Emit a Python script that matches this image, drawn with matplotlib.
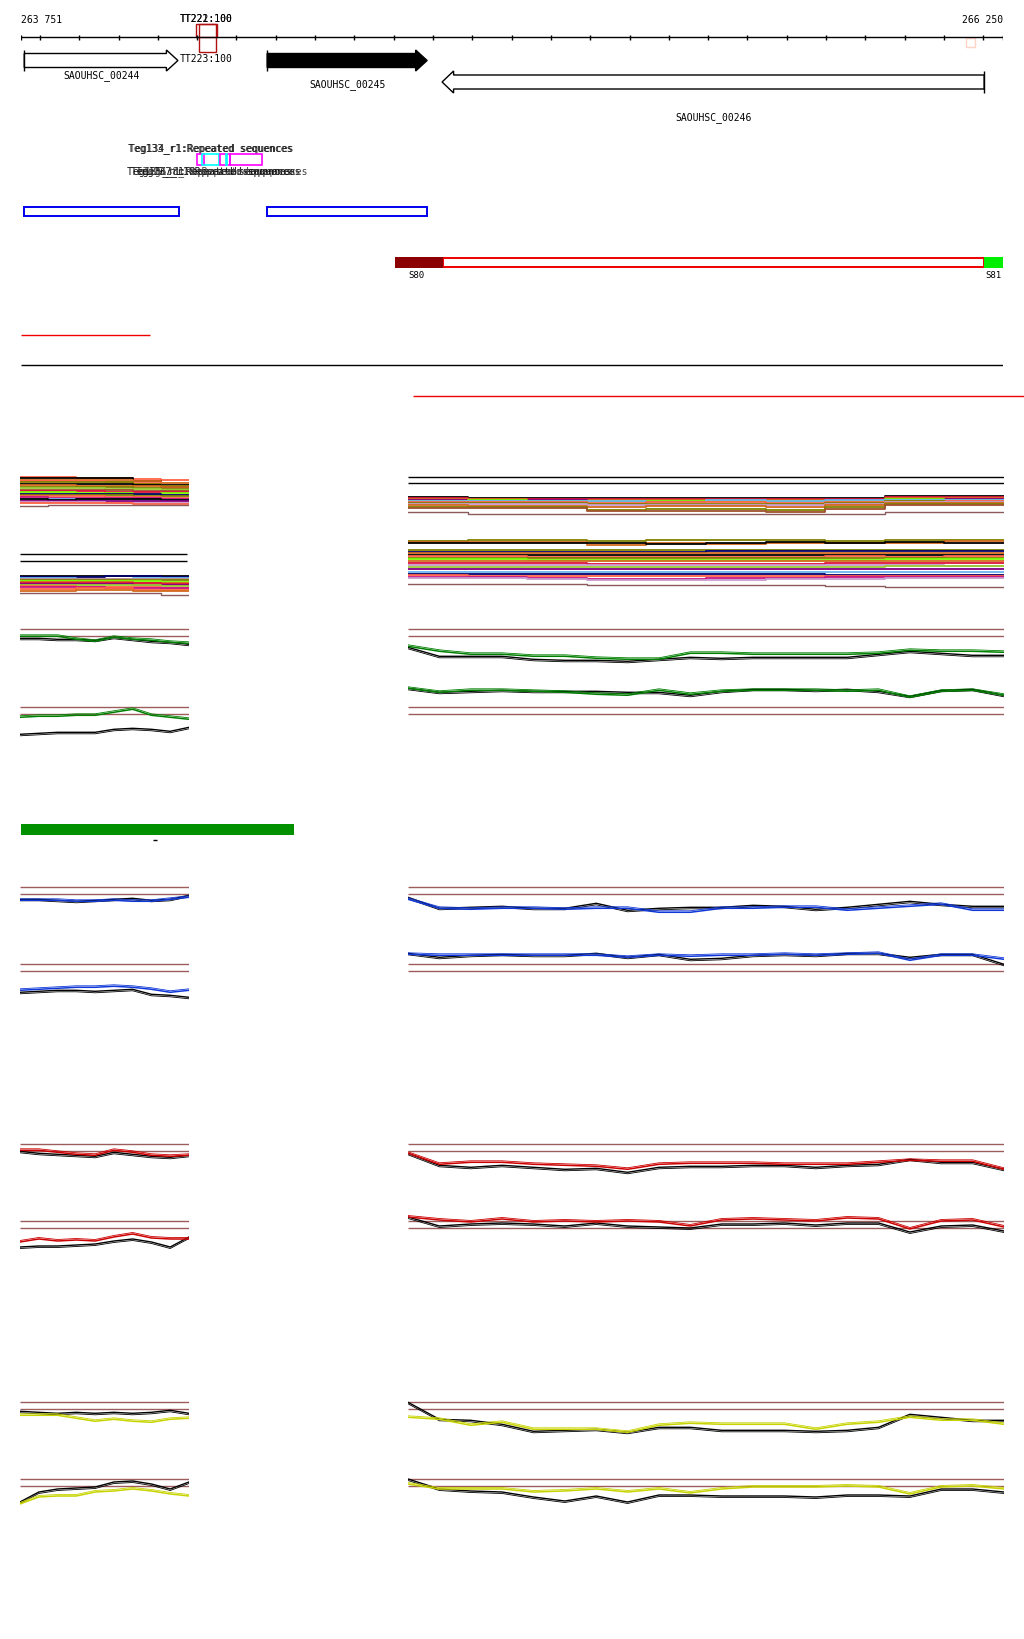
import numpy as np
import matplotlib.pyplot as plt
from matplotlib.patches import Rectangle, Polygon

W, H = 1024, 1640
plt.rcParams['font.family'] = 'DejaVu Sans Mono'
plt.rcParams['font.size'] = 7

# ---- genome window ----
win_start, win_end = 263751, 266250
ruler_ticks = list(range(263800, 266250, 100))

# genes: name, start, end, strand, filled
gene_names = ['SAOUHSC_00244', 'SAOUHSC_00245', 'SAOUHSC_00246']
gene_starts = [263760, 264378, 264823]
gene_ends = [264151, 264785, 266202]
gene_strands = [1, 1, -1]
gene_filled = [False, True, False]

# terminators
term_labels = ['TT221:100', 'TT222:100', 'TT223:100']
term_starts = [264198, 264205]
term_ends = [264251, 264247]

# repeated sequence annotations
rep_starts = [264200, 264213, 264258, 264273, 264284]
rep_ends = [264218, 264256, 264284, 264275, 264366]
rep_colors = ['magenta', 'cyan', 'magenta', 'cyan', 'magenta']
rep_labels_1 = ['Teg133_r1:Repeated sequences', 'Teg134_r1:Repeated sequences']
rep_labels_2 = ['Teg135_r1:Repeated sequences', 'Teg136_r1:Repeated sequences',
                'Teg137_r1:Repeated sequences', 'Teg138_r1:Repeated sequences']

# blue boxes (CDS)
cds_starts = [263759, 264378]
cds_ends = [264154, 264785]

# segment bar S80 / S81
seg_start, seg_end = 264703, 266250
seg_left_end = 264825
seg_right_start = 266202

# ---- dense colored tracks ----
C = {'tomato': '#ff6347', 'black': '#000000', 'orange': '#d2691e', 'olive': '#808000',
     'yellowgreen': '#9acd32', 'sienna': '#a0522d', 'crimson': '#dc143c',
     'lawngreen': '#7cfc00', 'navy': '#000070', 'magenta': '#c71585',
     'lightblue': '#6cb4ee', 'purple': '#800080', 'plum': '#c89ad0',
     'brown': '#8b5a5a', 'rosybrown': '#bc8f8f'}

dl1_colors = ['tomato', 'black', 'orange', 'tomato', 'olive', 'black', 'orange', 'olive',
              'yellowgreen', 'sienna', 'crimson', 'lawngreen', 'navy', 'olive', 'tomato',
              'magenta', 'lightblue', 'black', 'purple', 'plum', 'tomato', 'brown']
dl1_levels = [[0, 0, 1, 1, 2, 3], [1, 1, 1, 1, 4, 8], [3, 3, 3, 3, 4, 6], [4, 4, 4, 5, 6, 9],
              [5, 5, 5, 5, 7, 9], [7, 7, 7, 7, 8, 10], [8, 8, 9, 9, 9, 10], [10, 10, 10, 10, 11, 12],
              [11, 11, 11, 12, 12, 13], [13, 13, 13, 13, 14, 14], [14, 14, 14, 15, 15, 15],
              [15, 15, 16, 16, 17, 16], [17, 17, 17, 17, 17, 18], [18, 18, 18, 18, 19, 19],
              [19, 19, 19, 20, 20, 21], [20, 21, 21, 21, 21, 22], [22, 22, 23, 22, 23, 23],
              [22, 23, 22, 22, 22, 23], [24, 24, 24, 24, 24, 24], [25, 25, 25, 26, 26, 26],
              [26, 26, 26, 26, 27, 27], [29, 28, 28, 28, 28, 28]]

dr1_colors = ['black', 'crimson', 'orange', 'purple', 'lawngreen', 'lightblue', 'tomato',
              'olive', 'plum', 'orange', 'olive', 'sienna', 'brown']
dr1_levels = [[2, 3, 3, 3, 3, 3, 3, 3, 1, 1], [3, 4, 4, 4, 4, 4, 4, 4, 2, 2],
              [4, 4, 5, 5, 5, 5, 5, 5, 3, 3], [5, 5, 5, 6, 6, 6, 6, 5, 4, 4],
              [6, 5, 6, 6, 6, 6, 6, 6, 4, 5], [6, 6, 6, 6, 7, 5, 6, 5, 5, 5],
              [7, 7, 7, 8, 7, 7, 8, 7, 6, 6], [8, 8, 8, 9, 9, 9, 9, 8, 6, 7],
              [9, 9, 9, 10, 10, 10, 10, 9, 7, 7], [10, 11, 11, 12, 11, 11, 12, 10, 8, 8],
              [12, 12, 12, 15, 14, 14, 15, 12, 9, 9], [13, 13, 13, 16, 16, 16, 17, 14, 10, 10],
              [17, 19, 19, 19, 19, 19, 19, 19, 17, 17]]

dl2_colors = ['black', 'navy', 'lightblue', 'rosybrown', 'olive', 'lawngreen', 'orange',
              'crimson', 'purple', 'yellowgreen', 'tomato', 'magenta', 'tomato', 'orange', 'brown']
dl2_levels = [[0, 0, 0, 0, 0, 0], [1, 1, 1, 0, 0, 1], [2, 2, 3, 3, 2, 2], [3, 3, 3, 3, 3, 3],
              [4, 4, 4, 4, 4, 4], [5, 5, 5, 5, 5, 6], [6, 6, 6, 6, 7, 7], [7, 7, 7, 7, 7, 8],
              [8, 8, 8, 8, 9, 9], [9, 9, 9, 9, 9, 10], [10, 10, 11, 11, 11, 12],
              [11, 11, 11, 12, 12, 12], [13, 13, 12, 12, 14, 14], [15, 15, 14, 14, 15, 15],
              [17, 17, 17, 17, 17, 19]]

dr2_colors = ['olive', 'orange', 'black', 'olive', 'navy', 'orange', 'black', 'tomato', 'olive',
              'lawngreen', 'orange', 'crimson', 'plum', 'yellowgreen', 'purple', 'lightblue',
              'navy', 'tomato', 'magenta', 'plum', 'brown']
dr2_levels = [[1, 0, 0, 1, 0, 0, 0, 1, 0, 0], [2, 2, 2, 5, 3, 4, 3, 3, 3, 1],
              [3, 3, 3, 3, 4, 3, 2, 3, 2, 3], [10] * 10, [12, 12, 12, 12, 12, 11, 11, 11, 11, 11],
              [13] * 10, [15] * 10, [16, 16, 17, 17, 17, 17, 17, 16, 17, 16], [18] * 10,
              [19, 19, 20, 20, 20, 20, 20, 20, 19, 19], [21] * 10,
              [23, 23, 23, 24, 24, 24, 24, 23, 23, 23], [25, 25, 25, 25, 25, 25, 25, 25, 25, 26],
              [27, 27, 27, 27, 27, 27, 27, 27, 26, 26], [29] * 10, [32] * 10,
              [34, 34, 34, 34, 34, 34, 34, 35, 35, 35], [35, 36, 36, 36, 36, 36, 36, 36, 36, 36],
              [37, 37, 38, 39, 39, 38, 38, 37, 37, 37], [38, 38, 39, 40, 40, 40, 39, 39, 38, 38],
              [44, 44, 44, 45, 45, 45, 45, 46, 47, 47]]

# ---- coverage-like signal tracks (pixel offsets from brown guide lines) ----
sig_colors = ['#008000', '#1038d8', '#cc0000', '#c8d400']

green_ru_k = [18, 27, 27, 27, 30, 31, 31, 32, 30, 28, 29, 28, 28, 28, 28, 25, 22, 24, 26, 26]
green_ru_c = [17, 22, 25, 25, 27, 27, 29, 30, 30, 24, 24, 25, 25, 25, 25, 24, 21, 22, 22, 23]
green_rl_k = [-19, -15, -16, -17, -16, -16, -16, -15, -15, -12, -16, -18, -18, -17, -18, -16, -11, -17, -18, -12]
green_rl_c = [-19, -15, -17, -17, -16, -15, -13, -12, -17, -13, -16, -17, -17, -17, -16, -17, -10, -16, -17, -12]
green_lu_k = [9, 9, 10, 10, 11, 8, 10, 12, 13, 15]
green_lu_c = [7, 7, 7, 10, 12, 8, 10, 11, 13, 14]
green_ll_k = [27, 26, 25, 25, 25, 22, 21, 22, 24, 20]
green_ll_c = [10, 9, 9, 8, 8, 5, 2, 8, 10, 12]

blue_ru_k = [10, 21, 20, 19, 21, 21, 16, 23, 21, 20, 20, 18, 19, 22, 20, 17, 14, 17, 19, 19]
blue_ru_c = [12, 21, 22, 21, 21, 22, 21, 21, 25, 25, 21, 21, 20, 20, 23, 21, 19, 17, 23, 23]
blue_rl_k = [-11, -7, -9, -10, -9, -9, -11, -7, -10, -5, -6, -9, -10, -9, -11, -11, -7, -10, -10, 0]
blue_rl_c = [-10, -9, -9, -9, -9, -9, -9, -7, -9, -8, -9, -9, -10, -9, -10, -11, -4, -9, -9, -5]
blue_lu_k = [12, 12, 13, 14, 13, 12, 11, 13, 12, 8]
blue_lu_c = [13, 13, 13, 14, 14, 13, 14, 14, 12, 10]
blue_ll_k = [28, 27, 26, 26, 27, 26, 25, 30, 31, 33]
blue_ll_c = [26, 25, 24, 23, 23, 22, 23, 25, 28, 26]

red_ru_k = [9, 21, 23, 21, 23, 25, 24, 28, 23, 22, 22, 21, 21, 23, 21, 20, 15, 18, 18, 25]
red_ru_c = [9, 20, 18, 18, 20, 21, 22, 25, 20, 19, 19, 19, 20, 20, 20, 18, 16, 17, 17, 25]
red_rl_k = [-4, 5, 3, 2, 3, 5, 2, 5, 6, 7, 3, 3, 2, 4, 2, 2, 11, 5, 4, 10]
red_rl_c = [-4, -1, 1, -2, 1, 0, 1, 0, 1, 5, -1, -2, -1, 0, -3, -2, 8, 0, -1, 6]
red_lu_k = [7, 9, 10, 11, 12, 8, 10, 12, 13, 11]
red_lu_c = [6, 6, 8, 10, 11, 6, 8, 11, 12, 11]
red_ll_k = [26, 25, 25, 24, 23, 20, 18, 21, 26, 16]
red_ll_c = [21, 18, 20, 19, 20, 16, 13, 17, 18, 18]

yel_ru_k = [0, 17, 18, 22, 29, 28, 27, 30, 25, 25, 28, 28, 28, 29, 28, 25, 12, 15, 18, 18]
yel_ru_c = [15, 17, 23, 20, 27, 27, 27, 30, 23, 21, 22, 22, 22, 27, 22, 20, 15, 18, 18, 22]
yel_rl_k = [0, 10, 12, 13, 18, 22, 17, 23, 16, 16, 17, 17, 17, 18, 16, 16, 17, 10, 10, 13]
yel_rl_c = [5, 10, 10, 10, 13, 12, 10, 13, 10, 14, 10, 8, 8, 8, 7, 8, 15, 8, 7, 10]
yel_lu_k = [9, 10, 11, 10, 11, 10, 11, 10, 8, 11]
yel_lu_c = [13, 13, 13, 16, 19, 17, 19, 20, 17, 16]
yel_ll_k = [23, 13, 10, 9, 8, 3, 2, 5, 10, 3]
yel_ll_c = [25, 18, 17, 17, 13, 12, 10, 12, 15, 17]

sig_tracks = [
    (green_ru_k, green_ru_c, green_rl_k, green_rl_c, green_lu_k, green_lu_c, green_ll_k, green_ll_c),
    (blue_ru_k, blue_ru_c, blue_rl_k, blue_rl_c, blue_lu_k, blue_lu_c, blue_ll_k, blue_ll_c),
    (red_ru_k, red_ru_c, red_rl_k, red_rl_c, red_lu_k, red_lu_c, red_ll_k, red_ll_c),
    (yel_ru_k, yel_ru_c, yel_rl_k, yel_rl_c, yel_lu_k, yel_lu_c, yel_ll_k, yel_ll_c),
]
sig_top_y = [630.3, 888.3, 1145.3, 1403.3]
sig_bot_y = [708.3, 965.3, 1222.0, 1480.0]
BROWN = '#9c5c5c'

# ---------------------------------------------------------------------------
fig = plt.figure(figsize=(W / 100, H / 100), dpi=100)
fig.patch.set_facecolor('white')

# pixel axes for free layout
ax = fig.add_axes([0, 0, 1, 1])
ax.set_xlim(0, W)
ax.set_ylim(H, 0)
ax.axis('off')

# genomic axes
gx0, gx1 = 20.7, 1003.0
axg = fig.add_axes([gx0 / W, 0, (gx1 - gx0) / W, 1])
axg.set_xlim(win_start, win_end)
axg.set_ylim(H, 0)
axg.axis('off')
bp_px = (win_end - win_start) / (gx1 - gx0)   # bp per pixel

# ruler
axg.hlines(38.3, win_start, win_end, color='black', lw=1)
axg.vlines(ruler_ticks + [win_start, win_end], 35.5, 41, color='black', lw=1)
axg.text(win_start, 20, '263 751', ha='left', va='center')
axg.text(win_end, 20, '266 250', ha='right', va='center')

# terminators
axg.add_patch(Rectangle((term_starts[0], 25.3), term_ends[0] - term_starts[0], 12.7,
                        fill=False, ec='#b01010', lw=1))
axg.add_patch(Rectangle((term_starts[1], 25.3), term_ends[1] - term_starts[1], 27.4,
                        fill=False, ec='#b01010', lw=1))
axg.text(264151 + 2 * bp_px, 19, term_labels[0], ha='left', va='center')
axg.text(264151 + 2 * bp_px, 19, term_labels[1], ha='left', va='center')
axg.text(264151 + 2 * bp_px, 59, term_labels[2], ha='left', va='center')
axg.add_patch(Rectangle((266156, 38.5), 23, 9.5, fill=False, ec='#ffd4c4', lw=1))

# gene arrows
for name, s, e, st, filled, (ytop, ybot) in zip(gene_names, gene_starts, gene_ends, gene_strands,
                                                 gene_filled, [(51, 72), (51, 72), (72, 94)]):
    head = 11.5 * bp_px
    yc = (ytop + ybot) / 2
    b0, b1 = yc - 7, yc + 7
    if st > 0:
        pts = [(s, b0), (e - head, b0), (e - head, ytop), (e, yc), (e - head, ybot), (e - head, b1), (s, b1)]
        bar = s
    else:
        pts = [(e, b0), (s + head, b0), (s + head, ytop), (s, yc), (s + head, ybot), (s + head, b1), (e, b1)]
        bar = e
    axg.add_patch(Polygon(pts, closed=True, fc='black' if filled else 'white', ec='black', lw=1))
    axg.vlines(bar, ytop, ybot, color='black', lw=1)
label_y = [76, 85, 118]
for name, s, e, y in zip(gene_names, gene_starts, gene_ends, label_y):
    axg.text((s + e) / 2, y, name, ha='center', va='center')

# repeated sequences (labels overlap in the original browser view)
for i, lab in enumerate(rep_labels_1):
    ax.text(128 + i * 1.0, 149, lab, ha='left', va='center', color='#222222')
for i, lab in enumerate(rep_labels_2):
    ax.text([127, 131, 136, 143][i], 172, lab, ha='left', va='center',
            color='#111111' if i < 3 else '#444444')
for s, e, c in zip(rep_starts, rep_ends, rep_colors):
    axg.add_patch(Rectangle((s, 155.3), e - s, 11, fill=False, ec=c, lw=1.2))

# CDS boxes
for s, e in zip(cds_starts, cds_ends):
    axg.add_patch(Rectangle((s, 207.5), e - s, 9.5, fill=False, ec='#0000ee', lw=1.4))

# S80 / S81 segment
axg.add_patch(Rectangle((seg_left_end, 258.5), seg_right_start - seg_left_end, 9.5,
                        fc='white', ec='#ee0000', lw=1.4))
axg.add_patch(Rectangle((seg_start, 258), seg_left_end - seg_start, 10.5, fc='#8b0000', ec='none'))
axg.add_patch(Rectangle((seg_right_start, 258), seg_end - seg_right_start, 10.5, fc='#00ee00', ec='none'))
axg.text(seg_start + 56, 276, 'S80', ha='center', va='center', fontsize=6.5)
axg.text(seg_end - 2 * bp_px, 276, 'S81', ha='right', va='center', fontsize=6.5)

# single lines
axg.hlines(336.3, win_start, 264080, color='#ee0000', lw=1)
axg.hlines(366.3, win_start, win_end, color='black', lw=1)
ax.hlines(397, 413, W, color='#ee0000', lw=1)

# green bar
axg.add_patch(Rectangle((win_start, 824.5), 264447 - win_start, 11, fc='#009000', ec='none'))
ax.hlines(841, 153, 157, color='black', lw=1)

# panels
axl = fig.add_axes([20 / W, 0, 169 / W, 1])
axr = fig.add_axes([408 / W, 0, 596 / W, 1])
for a in (axl, axr):
    a.set_xlim(0, 1)
    a.set_ylim(H, 0)
    a.axis('off')


def dense(a, top, colors, levels):
    for c, lv in zip(colors, levels):
        xs = np.linspace(0, 1, len(lv) + 1)
        a.plot(xs, top + np.array(lv + [lv[-1]]), drawstyle='steps-post',
               color=C[c], lw=1.3 if c != 'brown' else 1.0)


axr.hlines([478.3, 484.3], 0, 1, color='black', lw=1)
dense(axl, 477.5, dl1_colors, dl1_levels)
dense(axr, 495.5, dr1_colors, dr1_levels)
axl.hlines([555.3, 562.3], 0, 0.99, color='black', lw=1)
dense(axl, 577, dl2_colors, dl2_levels)
dense(axr, 541, dr2_colors, dr2_levels)

for col, tr, ty, by in zip(sig_colors, sig_tracks, sig_top_y, sig_bot_y):
    ru_k, ru_c, rl_k, rl_c, lu_k, lu_c, ll_k, ll_c = tr
    for a in (axl, axr):
        a.hlines([ty, ty + 7, by, by + 7], 0, 1, color=BROWN, lw=1)
    for a, base, k, c in [(axr, ty, ru_k, ru_c), (axr, by, rl_k, rl_c),
                          (axl, ty, lu_k, lu_c), (axl, by, ll_k, ll_c)]:
        xs = np.linspace(0, 1, len(k))
        a.plot(xs, base + np.array(k), color='black', lw=1.0)
        a.plot(xs, base + np.array(k) + 1.5, color='black', lw=0.6)
        a.plot(xs, base + np.array(c), color=col, lw=1.1)
        a.plot(xs, base + np.array(c) - 1.5, color=col, lw=0.6)

fig.savefig('out.png', dpi=100, facecolor='white')
